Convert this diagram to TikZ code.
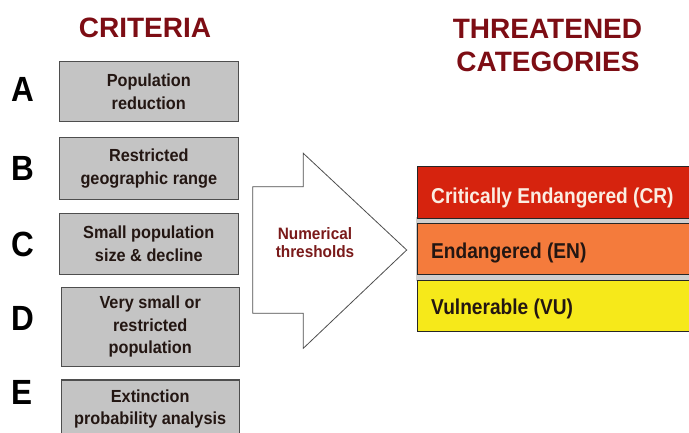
\documentclass[tikz,border=0pt]{standalone}
\usepackage{fontspec}
\setmainfont{Liberation Sans}
\newfontfamily\catfam[FakeStretch=0.89]{Liberation Sans}
\newfontfamily\bxfam[FakeStretch=0.93]{Liberation Sans}
\newfontfamily\ltrfam[FakeStretch=0.9]{Liberation Sans}
\definecolor{titlered}{HTML}{7D0D14}
\definecolor{arrowtext}{HTML}{7A1A1A}
\definecolor{critfill}{HTML}{C4C4C4}
\definecolor{critline}{HTML}{4E4E4E}
\definecolor{crfill}{HTML}{D6230E}
\definecolor{enfill}{HTML}{F47B3C}
\definecolor{vufill}{HTML}{F6E91A}
\definecolor{crtext}{HTML}{FBEDE2}
\definecolor{darktext}{HTML}{231612}
\definecolor{gapgrey}{HTML}{CFCFCF}
\newcommand\ttlfnt{\bfseries\fontsize{28}{32}\selectfont}
\newcommand\ltrfnt{\ltrfam\bfseries\fontsize{35}{38}\selectfont}
\newcommand\bxfnt{\bxfam\bfseries\fontsize{17.5}{22.5}\selectfont}
\newcommand\catfnt{\catfam\bfseries\fontsize{21.5}{24}\selectfont}
\newcommand\thrfnt{\bxfam\bfseries\fontsize{16.5}{18.5}\selectfont}
\begin{document}
\begin{tikzpicture}[x=1pt,y=-1pt,
  title/.style={anchor=base, inner sep=0pt, font=\ttlfnt, text=titlered},
  letter/.style={anchor=base, inner sep=0pt, font=\ltrfnt, text=black},
  critbox/.style={draw=critline, fill=critfill, line width=1.1pt, inner sep=0pt,
    align=center, font=\bxfnt, text=darktext},
  catbox/.style={draw=black!85, line width=1.4pt, anchor=north west, inner sep=0pt,
    minimum width=290pt, minimum height=52pt},
  catlabel/.style={anchor=base west, inner sep=0pt, font=\catfnt},
]
\useasboundingbox (0,0) rectangle (689,432);
\fill[white] (0,0) rectangle (689,432);
\clip (0,0) rectangle (689,432);

% headings
\node[title] (crit) at (145,37.7) {CRITERIA};
\node[title] (threat) at (547.5,38.3) {THREATENED};
\node[title] (categ) at (548,71.7) {CATEGORIES};

% criteria letters
\node[letter] (la) at (22.5,101.7) {A};
\node[letter] (lb) at (23,180) {B};
\node[letter] (lc) at (23,256.7) {C};
\node[letter] (ld) at (23,330) {D};
\node[letter] (le) at (22.5,404) {E};

% criteria boxes
\node[critbox, minimum width=179pt, minimum height=60pt] (ba) at (148.8,91.7)
  {Population\\reduction};
\node[critbox, minimum width=179pt, minimum height=61.6pt] (bb) at (148.8,168.5)
  {Restricted\\geographic range};
\node[critbox, minimum width=179pt, minimum height=60.7pt] (bc) at (148.8,243.7)
  {Small population\\size \& decline};
\node[critbox, minimum width=178.3pt, minimum height=78.7pt] (bd) at (150.2,326.7)
  {Very small or\\restricted\\population};
\node[critbox, minimum width=178.3pt, minimum height=58pt] (be) at (150.2,409)
  {Extinction\\probability analysis};

% block arrow
\draw[draw=critline, fill=white, line width=0.8pt, line join=miter]
  (252.7,186.7) -- (303.3,186.7) -- (303.3,153.3) -- (406.7,250)
  -- (303.3,348.3) -- (303.3,313.3) -- (252.7,313.3) -- cycle;
\node[align=center, inner sep=0pt, font=\thrfnt, text=arrowtext] (thr) at (315,242.5)
  {Numerical\\thresholds};

% threatened categories, stacked with a thin grey seam between them
\fill[gapgrey] (416,217) rectangle (689,281);
\node[catbox, fill=crfill] (crbox) at (417,166) {};
\node[catbox, fill=enfill, minimum height=51.5pt] (enbox) at (417,222.5) {};
\node[catbox, fill=vufill, minimum height=51.5pt] (vubox) at (417,279.5) {};
\node[catlabel, text=crtext] (cr) at (431,203.3) {Critically Endangered (CR)};
\node[catlabel, text=darktext] (en) at (431,258.3) {Endangered (EN)};
\node[catlabel, text=darktext] (vu) at (431,314) {Vulnerable (VU)};
\end{tikzpicture}
\end{document}
